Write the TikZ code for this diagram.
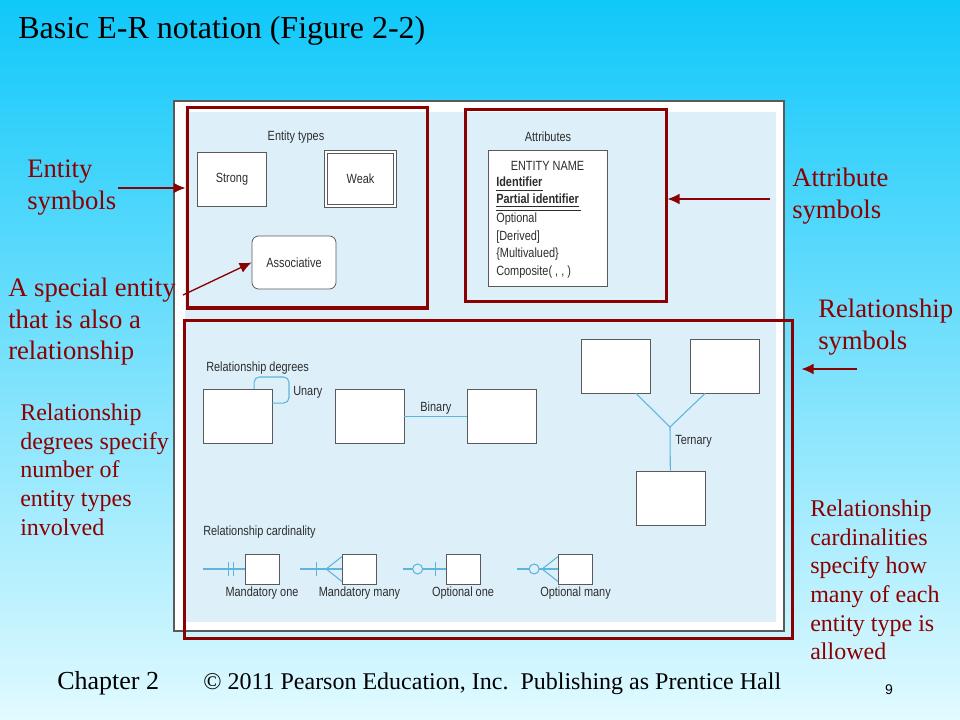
\documentclass[tikz,border=0pt]{standalone}
\usepackage{fontspec}
\setmainfont{Liberation Serif}
\newfontfamily\figfont[FakeStretch=0.82]{Liberation Sans}
\newfontfamily\numfont{Liberation Sans}
\usetikzlibrary{positioning,arrows.meta}
\definecolor{callred}{RGB}{139,0,0}
\definecolor{skytop}{RGB}{16,200,250}
\definecolor{skybot}{RGB}{225,250,255}
\definecolor{panel}{RGB}{221,240,250}
\definecolor{relblue}{RGB}{95,180,220}
\definecolor{figgray}{RGB}{90,90,90}
\definecolor{figtext}{RGB}{45,45,45}

\begin{document}
\begin{tikzpicture}[x=0.75pt,y=-0.75pt,>={Latex[length=9pt,width=8pt]},
  entity/.style={draw=figgray,fill=white,line width=0.6pt,inner sep=0pt,minimum width=51.75pt,minimum height=40.5pt,font=\figfont\fontsize{10}{12}\selectfont,text=figtext},
  card box/.style={entity,minimum width=25.5pt,minimum height=22.5pt},
  fig label/.style={font=\figfont\fontsize{10}{12}\selectfont,text=figtext,inner sep=0pt},
  rel line/.style={draw=relblue,line width=0.8pt},
  red box/.style={draw=callred,line width=2.25pt,inner sep=0pt},
  callout/.style={->,draw=callred,line width=1pt},
  big note/.style={text=callred,align=left,inner sep=0pt,anchor=north west,font=\fontsize{20}{24}\selectfont},
  small note/.style={big note,font=\fontsize{18}{21.5}\selectfont}]

  % slide background
  \shade[top color=skytop,bottom color=skybot] (0,0) rectangle (960,720);
  \useasboundingbox (0,0) rectangle (960,720);

  \node[anchor=base west,inner sep=0pt,font=\fontsize{24}{28}\selectfont] (title) at (18,39) {Basic E-R notation (Figure 2-2)};

  % the figure itself
  \draw[draw=figgray,line width=1.5pt,fill=white] (174,101) rectangle (784,631);
  \fill[panel] (185,112) rectangle (776,622);

  % entity types
  \node[fig label,anchor=base] (etypes) at (296,141) {Entity types};
  \node[entity] (strong) at (232,179) {Strong};
  \node[entity,double=white,double distance=1.5pt,minimum width=52pt,minimum height=40.8pt] (weak) at (360.5,179) {Weak};
  \node[entity,rounded corners=5pt,minimum width=63pt,minimum height=39.75pt] (assoc) at (294,262.5) {Associative};

  % attributes
  \node[fig label,anchor=base] (attrs) at (548,142) {Attributes};
  \node[entity,minimum width=89.25pt,minimum height=102pt] (attrbox) at (547.5,218) {};
  \node[fig label,anchor=base] (ename) at (547.5,171) {ENTITY NAME};
  \node[fig label,anchor=base west,font=\figfont\bfseries\fontsize{10}{12}\selectfont] (ident) at (496,187) {Identifier};
  \node[fig label,anchor=base west,font=\figfont\bfseries\fontsize{10}{12}\selectfont] (pident) at (496,204) {Partial identifier};
  \node[fig label,anchor=base west] (opt) at (496,223) {Optional};
  \node[fig label,anchor=base west] (der) at (496,241) {[Derived]};
  \node[fig label,anchor=base west] (multi) at (496,258) {\{Multivalued\}};
  \node[fig label,anchor=base west] (comp) at (496,276) {Composite( , , )};
  \draw[figtext,line width=0.6pt] ([yshift=-2.2pt]ident.base west) -- ([yshift=-2.2pt]ident.base east);
  \draw[figtext,line width=0.6pt] ([yshift=-1.5pt]pident.base west) -- ([yshift=-1.5pt]pident.base east);
  \draw[figtext,line width=0.6pt] ([yshift=-4.5pt]pident.base west) -- ([yshift=-4.5pt,xshift=1pt]pident.base east);

  % relationship degrees
  \node[fig label,anchor=base west] (rdeg) at (206,371) {Relationship degrees};
  \node[entity] (un) at (237.5,416.5) {};
  \node[fig label,anchor=base west] (unlab) at (293,395) {Unary};
  \coordinate (loop) at (289,377);
  \draw[rel line,rounded corners=4pt] ([xshift=12.4pt]un.north) |- (loop) |- ([yshift=10.1pt]un.east);

  \node[entity] (bin1) at (369.5,416.5) {};
  \node[entity,right=47.25pt of bin1] (bin2) {};
  \draw[rel line] (bin1) -- node[fig label,above=1pt] (binlab) {Binary} (bin2);

  \node[entity] (ter1) at (616,366) {};
  \node[entity] (ter2) at (724.5,366) {};
  \node[entity] (ter3) at (670.5,498) {};
  \coordinate (tj) at (670,427);
  \draw[rel line] ([xshift=15pt]ter1.south) -- (tj) -- ([xshift=-14.6pt]ter2.south);
  \draw[rel line] (tj) -- (ter3);
  \node[fig label,anchor=base west] (terlab) at (675,444) {Ternary};

  % relationship cardinality
  \node[fig label,anchor=base west] (rcard) at (203,535) {Relationship cardinality};
  \foreach \n/\x/\t in {1/262/Mandatory one,2/359.5/Mandatory many,3/463/Optional one,4/575.5/Optional many}{
    \node[card box] (c\n) at (\x,569) {};
    \node[fig label,below=2pt of c\n] (c\n-lab) {\t};
  }
  \coordinate (c1-end) at (203,569);
  \coordinate (c2-end) at (300,569);
  \coordinate (c3-end) at (403,569);
  \coordinate (c4-end) at (517,569);
  \draw[rel line] (c1-end) -- (c1);
  \draw[rel line] ([xshift=-12pt]c1.west) ++(0,-7) -- ++(0,14);
  \draw[rel line] ([xshift=-8.25pt]c1.west) ++(0,-7) -- ++(0,14);
  \draw[rel line] (c2-end) -- (c2);
  \draw[rel line] ([xshift=-19.5pt]c2.west) ++(0,-7) -- ++(0,14);
  \draw[rel line] ([yshift=9.4pt]c2.west) -- ([xshift=-12pt]c2.west) -- ([yshift=-9.4pt]c2.west);
  \draw[rel line] (c3-end) -- (c3);
  \draw[rel line,fill=panel] ([xshift=-21pt]c3.west) circle[radius=3.75pt];
  \draw[rel line] ([xshift=-7.5pt]c3.west) ++(0,-7) -- ++(0,14);
  \draw[rel line] (c4-end) -- (c4);
  \draw[rel line,fill=panel] ([xshift=-18pt]c4.west) circle[radius=3.75pt];
  \draw[rel line] ([yshift=9.4pt]c4.west) -- ([xshift=-12pt]c4.west) -- ([yshift=-9.4pt]c4.west);

  % red frames
  \node[red box,minimum width=180pt,minimum height=150pt] (ebox) at (307,208) {};
  \node[red box,minimum width=150.75pt,minimum height=144pt] (abox) at (565.5,206) {};
  \node[red box,minimum width=456pt,minimum height=238.5pt] (rbox) at (488,479) {};

  % callouts
  \node[big note] (esym) at (27,160) {Entity\\symbols};
  \coordinate (esym-from) at (118,188);
  \draw[callout] (esym-from) -- (esym-from -| ebox.west);

  \node[big note,font=\fontsize{20}{23.5}\selectfont] (spec) at (8,278) {A special entity\\that is also a\\relationship};
  \coordinate (spec-from) at (183,295);
  \draw[callout] (spec-from) -- (assoc.west);

  \node[big note] (asym) at (792,168) {Attribute\\symbols};
  \coordinate (asym-from) at (770,199);
  \draw[callout] (asym-from) -- (asym-from -| abox.east);

  \node[big note] (rsym) at (818,299) {Relationship\\symbols};
  \coordinate (rsym-from) at (857,369);
  \draw[callout,shorten >=6pt] (rsym-from) -- (rsym-from -| rbox.east);

  \node[small note] (rdnote) at (20,403.6) {Relationship\\degrees specify\\number of\\entity types\\involved};
  \node[small note] (rcnote) at (810,499.6) {Relationship\\cardinalities\\specify how\\many of each\\entity type is\\allowed};

  % footer
  \node[anchor=base west,inner sep=0pt,font=\fontsize{19.5}{22}\selectfont] (chap) at (57,689) {Chapter 2};
  \node[anchor=base west,inner sep=0pt,font=\fontsize{18}{20}\selectfont] (copy) at (203,689) {© 2011 Pearson Education, Inc.\ \ Publishing as Prentice Hall};
  \node[inner sep=0pt,font=\numfont\fontsize{10.5}{12}\selectfont] (pg) at (889,690) {9};
\end{tikzpicture}
\end{document}
